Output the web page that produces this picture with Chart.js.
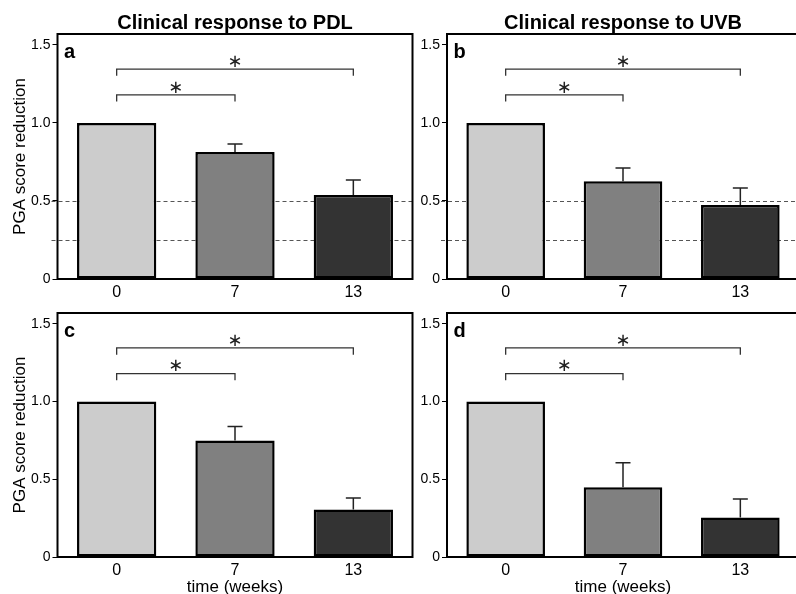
<!DOCTYPE html>
<html><head><meta charset="utf-8">
<script src="https://cdn.jsdelivr.net/npm/chart.js@4/dist/chart.umd.min.js"></script>
<style>
html,body{margin:0;padding:0;background:#fff;overflow:hidden;}
#wrap{position:relative;width:796px;height:594px;overflow:hidden;background:#fff;}
canvas{position:absolute;}
</style></head><body>
<div id="wrap">
<canvas id="pa" width="430" height="300" style="left:0;top:0"></canvas>
<canvas id="pb" width="390" height="300" style="left:420px;top:0"></canvas>
<canvas id="pc" width="430" height="304" style="left:0;top:290px"></canvas>
<canvas id="pd" width="390" height="304" style="left:420px;top:290px"></canvas>
</div>
<script>
// ---- data ----
const categories = ['0', '7', '13'];
const yTickValues = [0, 0.5, 1.0, 1.5];
const yTickLabels = ['0', '0.5', '1.0', '1.5'];
const meansA = [1.0, 0.814, 0.538];
const errA = [0, 0.051, 0.097];
const meansB = [1.0, 0.626, 0.474];
const errB = [0, 0.086, 0.109];
const meansC = [1.0, 0.749, 0.305];
const errC = [0, 0.091, 0.074];
const meansD = [1.0, 0.448, 0.254];
const errD = [0, 0.158, 0.119];
const refLines = [0.5, 0.25];
const bracketPairs = [[0, 1], [0, 2]];
const bracketLevels = [1.18, 1.345];
const bracketDrop = 0.043;
const starText = '\u2217';
const titles = ['Clinical response to PDL', 'Clinical response to UVB'];
const panelLetters = ['a', 'b', 'c', 'd'];
const yTitle = 'PGA score reduction';
const xTitle = 'time (weeks)';
const barColors = ['#cccccc', '#808080', '#333333'];

const FAM = '"Liberation Sans", Arial, Helvetica, sans-serif';

const deco = {
  id: 'deco',
  beforeDatasetsDraw(chart, args, o) {
    const {ctx, chartArea: ca, scales: {y}} = chart;
    if (o.refLines) {
      ctx.save();
      ctx.strokeStyle = '#555'; ctx.lineWidth = 1; ctx.setLineDash([4, 3]);
      o.refLines.forEach(v => {
        const py = Math.round(y.getPixelForValue(v)) + 0.5;
        ctx.beginPath(); ctx.moveTo(ca.left - 6, py); ctx.lineTo(ca.right, py); ctx.stroke();
      });
      ctx.restore();
    }
  },
  afterDatasetsDraw(chart, args, o) {
    const {ctx, chartArea: ca, scales: {x, y}} = chart;
    const ds = chart.data.datasets[0];
    const meta = chart.getDatasetMeta(0);
    ctx.save();
    // error bars
    ctx.strokeStyle = '#222'; ctx.lineWidth = 1.5;
    meta.data.forEach((bar, i) => {
      const e = o.errors[i];
      if (!e) return;
      const top = y.getPixelForValue(ds.data[i] + e);
      ctx.beginPath();
      ctx.moveTo(bar.x, bar.y); ctx.lineTo(bar.x, top);
      ctx.moveTo(bar.x - 7.5, top); ctx.lineTo(bar.x + 7.5, top);
      ctx.stroke();
    });
    // frame
    ctx.strokeStyle = '#000'; ctx.lineWidth = 2;
    ctx.strokeRect(ca.left, ca.top, ca.right - ca.left, ca.bottom - ca.top);
    // brackets
    ctx.strokeStyle = '#333'; ctx.lineWidth = 1.3;
    ctx.fillStyle = '#222';
    ctx.font = '18px "DejaVu Sans"';
    ctx.textAlign = 'center'; ctx.textBaseline = 'middle';
    bracketPairs.forEach((p, k) => {
      const x0 = x.getPixelForValue(p[0]), x1 = x.getPixelForValue(p[1]);
      const yb = y.getPixelForValue(bracketLevels[k]);
      const yd = y.getPixelForValue(bracketLevels[k] - bracketDrop);
      ctx.beginPath();
      ctx.moveTo(x0, yd); ctx.lineTo(x0, yb); ctx.lineTo(x1, yb); ctx.lineTo(x1, yd);
      ctx.stroke();
      ctx.fillText(starText, (x0 + x1) / 2, yb - 7);
    });
    // title and letter
    ctx.fillStyle = '#000';
    if (o.title) {
      ctx.font = 'bold 20px ' + FAM;
      ctx.textAlign = 'center'; ctx.textBaseline = 'alphabetic';
      ctx.fillText(o.title, (ca.left + ca.right) / 2, ca.top - 4.7);
    }
    ctx.font = 'bold 20px ' + FAM;
    ctx.textAlign = 'left'; ctx.textBaseline = 'alphabetic';
    ctx.fillText(o.letter, ca.left + 6.5, ca.top + 23.5);
    ctx.restore();
  }
};

function makePanel(id, means, errs, cfg) {
  new Chart(document.getElementById(id), {
    type: 'bar',
    data: {
      labels: categories,
      datasets: [{
        data: means,
        backgroundColor: barColors,
        borderColor: '#000',
        borderWidth: 2.5,
        borderSkipped: false,
        barPercentage: 0.67,
        categoryPercentage: 1
      }]
    },
    options: {
      responsive: false,
      animation: false,
      layout: {padding: {left: 0, top: cfg.top, right: cfg.right, bottom: 0}},
      plugins: {
        legend: {display: false},
        tooltip: {enabled: false},
        deco: {errors: errs, refLines: cfg.refLines, title: cfg.title, letter: cfg.letter}
      },
      scales: {
        x: {
          afterFit(s) { s.height = cfg.xh; },
          ticks: {font: {family: FAM, size: 16}, color: '#000', padding: 4},
          grid: {display: false, drawTicks: false},
          border: {display: false},
          title: {display: cfg.xTitle, text: xTitle, color: '#000',
                  font: {family: FAM, size: 17}, padding: {top: 0, bottom: -4}}
        },
        y: {
          min: 0, max: 1.57,
          afterFit(s) { s.width = cfg.yw; },
          afterBuildTicks(s) { s.ticks = yTickValues.map(v => ({value: v})); },
          ticks: {
            callback: (v) => { const i = yTickValues.indexOf(v); return i >= 0 ? yTickLabels[i] : ''; },
            font: {family: FAM, size: 14}, color: '#000', padding: 2
          },
          grid: {drawOnChartArea: false, drawTicks: true, tickLength: 5, color: '#000', lineWidth: 1},
          border: {display: false},
          title: {display: cfg.yTitle, text: yTitle, color: '#000',
                  font: {family: FAM, size: 17}, padding: {top: 10, bottom: 0}}
        }
      }
    },
    plugins: [deco]
  });
}

makePanel('pa', meansA, errA, {top: 34, right: 17.5, xh: 21, yw: 57.5, refLines: refLines, title: titles[0], letter: panelLetters[0], yTitle: true, xTitle: false});
makePanel('pb', meansB, errB, {top: 34, right: 11, xh: 21, yw: 27, refLines: refLines, title: titles[1], letter: panelLetters[1], yTitle: false, xTitle: false});
makePanel('pc', meansC, errC, {top: 23, right: 17.5, xh: 37, yw: 57.5, refLines: null, title: null, letter: panelLetters[2], yTitle: true, xTitle: true});
makePanel('pd', meansD, errD, {top: 23, right: 11, xh: 37, yw: 27, refLines: null, title: null, letter: panelLetters[3], yTitle: false, xTitle: true});
</script>
</body></html>
